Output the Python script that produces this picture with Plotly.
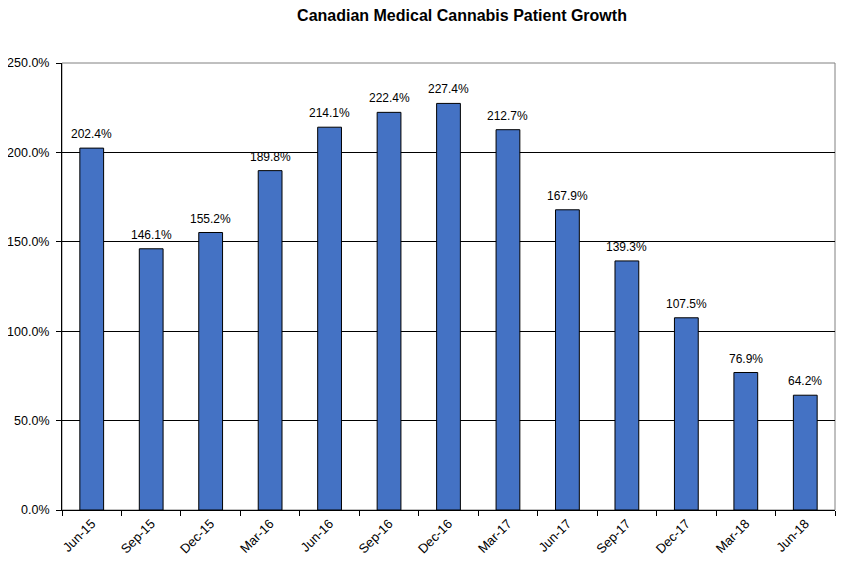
import plotly.graph_objects as go

categories = ["Jun-15", "Sep-15", "Dec-15", "Mar-16", "Jun-16", "Sep-16", "Dec-16",
              "Mar-17", "Jun-17", "Sep-17", "Dec-17", "Mar-18", "Jun-18"]
growth_pct = [202.4, 146.1, 155.2, 189.8, 214.1, 222.4, 227.4,
              212.7, 167.9, 139.3, 107.5, 76.9, 64.2]

values = [v / 100 for v in growth_pct]
labels = [f"{v:.1f}%" for v in growth_pct]

fig = go.Figure(go.Bar(
    x=categories, y=values,
    marker=dict(color="#4472C4", line=dict(color="black", width=1)),
    width=0.4,
))

annotations = [
    dict(x=c, y=v, text=t, xref="x", yref="y", showarrow=False,
         yanchor="bottom", yshift=5,
         font=dict(family="Liberation Sans, Arial", size=12, color="black"))
    for c, v, t in zip(categories, values, labels)
]

fig.update_layout(
    width=861, height=568,
    margin=dict(l=54, r=34, t=55, b=66, autoexpand=False),
    paper_bgcolor="white", plot_bgcolor="white",
    font=dict(family="Liberation Sans, Arial", size=12, color="black"),
    title=dict(text="<b>Canadian Medical Cannabis Patient Growth</b>",
               x=(461 - 7) / 861, xanchor="center", xref="container",
               y=1 - 7 / 568, yanchor="middle", yref="container",
               font=dict(size=16, color="black")),
    showlegend=False,
    annotations=annotations,
    shapes=[dict(type="rect", xref="paper", yref="paper", x0=0, x1=1, y0=0, y1=1,
                 line=dict(color="#808080", width=1), layer="below")],
)
fig.update_yaxes(range=[0, 2.5], dtick=0.5, tickformat=".1%", automargin=False,
                 showgrid=True, gridcolor="black", gridwidth=1,
                 showline=True, linecolor="black", linewidth=1,
                 ticks="outside", ticklen=5, tickcolor="black", zeroline=False,
                 ticklabelstandoff=4,
                 tickfont=dict(size=12.5))
fig.update_xaxes(tickangle=-45, showline=True, linecolor="black", linewidth=1,
                 automargin=False,
                 ticks="outside", ticklen=5, tickcolor="black", tickson="boundaries",
                 tickfont=dict(size=13), showgrid=False)

fig.write_html("out.html")
